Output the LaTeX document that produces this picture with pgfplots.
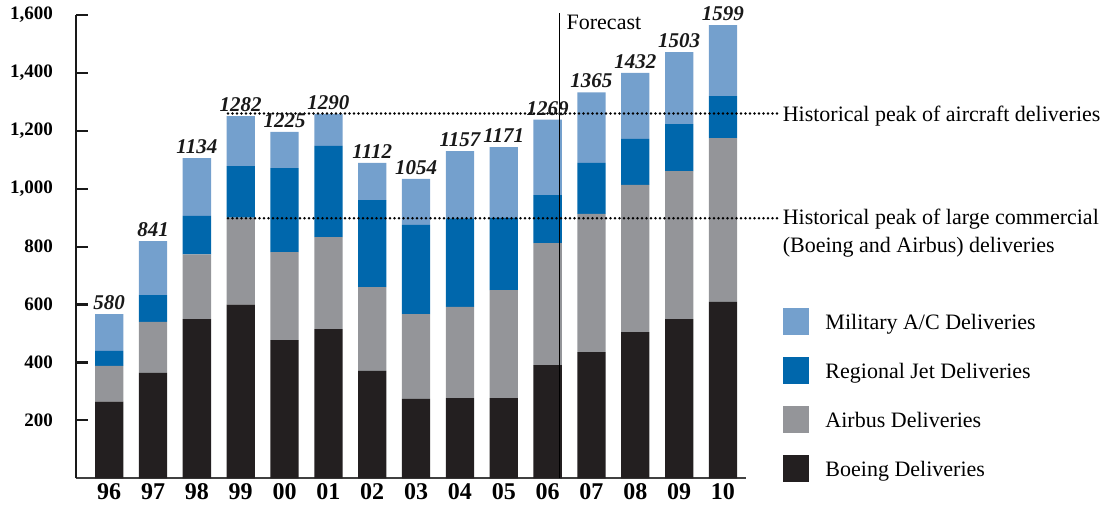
\documentclass[border=0pt]{standalone}
\usepackage{fontspec}
\setmainfont{Liberation Serif}
\usepackage{pgfplots}
\usepackage{pgfplotstable}
\pgfplotsset{compat=1.18}

\definecolor{boeing}{HTML}{231F20}
\definecolor{airbus}{HTML}{949599}
\definecolor{regional}{HTML}{0067AC}
\definecolor{military}{HTML}{74A0CD}

% segment heights; top = drawn bar top, total = printed label
\pgfplotstableread{
x  boeing airbus regional military top  total
0  265    123    52       127      567  580
1  364    176    93       186      819  841
2  550    223    133      200      1106 1134
3  600    300    178      173      1251 1282
4  477    304    290      125      1196 1225
5  515    318    315      110      1258 1290
6  371    289    301      128      1089 1112
7  274    293    308      159      1034 1054
8  277    315    306      232      1130 1157
9  277    373    249      245      1144 1171
10 391    421    166      261      1239 1269
11 436    477    176      244      1333 1365
12 505    508    159      228      1400 1432
13 550    511    162      249      1472 1503
14 609    566    145      245      1565 1599
}\deliveries

\pgfplotstableread{
x     y
2.71  1260
15.25 1260
}\peakall
\pgfplotstableread{
x     y
2.71  898
15.25 898
}\peaklarge
\pgfplotstableread{
x     y
10.28 0
10.28 1607
}\forecast

\begin{document}
\begin{tikzpicture}
\pgfplotsset{
  geom/.style={
    at={(0,0)}, anchor=south west,
    scale only axis, width=670pt, height=463.3pt,
    xmin=-0.757, xmax=14.525, ymin=0, ymax=1600,
    clip=false,
  },
  peak/.style={black, line width=2.7pt, line cap=round, dash pattern=on 0pt off 4.5pt},
}
\begin{axis}[
  geom, name=ax,
  ybar stacked, bar width=0.645,
  axis lines*=left,
  y axis line style={line width=2.2pt, black!90},
  x axis line style={line width=1.6pt, black!75},
  xtick={0,...,14},
  xticklabels={96,97,98,99,00,01,02,03,04,05,06,07,08,09,10},
  xtick style={draw=none},
  xticklabel style={font=\bfseries\fontsize{24}{24}\selectfont, inner sep=0pt, anchor=north, yshift=-5pt},
  ytick={200,400,...,1600},
  tick align=inside, major tick length=12pt,
  ytick style={line width=2.2pt, black!90},
  scaled y ticks=false,
  /pgf/number format/1000 sep={,},
  /pgf/number format/assume math mode=true,
  yticklabel style={font=\bfseries\fontsize{19}{19}\selectfont, inner sep=0pt, anchor=east, xshift=-23pt},
  reverse legend,
  legend cell align=left,
  legend image code/.code={\fill[#1] (0pt,-5.7pt) rectangle (26.5pt,21.3pt);},
  legend style={draw=none, fill=none, at={(1.0552,0.3676)}, anchor=north west,
    inner sep=0pt, outer sep=0pt, row sep=22pt, column sep=14pt,
    font=\fontsize{22}{26}\selectfont, cells={anchor=base west}},
]
\addplot[fill=boeing, draw=none] table[x=x, y=boeing]{\deliveries};
\addlegendentry{Boeing Deliveries}
\addplot[fill=airbus, draw=none] table[x=x, y=airbus]{\deliveries};
\addlegendentry{Airbus Deliveries}
\addplot[fill=regional, draw=none] table[x=x, y=regional]{\deliveries};
\addlegendentry{Regional Jet Deliveries}
\addplot[fill=military, draw=none] table[x=x, y=military]{\deliveries};
\addlegendentry{Military A/C Deliveries}
\end{axis}

\begin{axis}[geom, hide axis]
\addplot[draw=none, nodes near coords, point meta=explicit symbolic,
  nodes near coords style={font=\bfseries\itshape\fontsize{21}{21}\selectfont,
    inner sep=0pt, anchor=south, yshift=4pt, text=black!90}]
  table[x=x, y=top, meta=total]{\deliveries};
\addplot[peak] table[x=x, y=y]{\peakall};
\addplot[peak] table[x=x, y=y]{\peaklarge};
\addplot[black, line width=0.8pt] table[x=x, y=y]{\forecast};
\node[anchor=base west, inner sep=0pt, font=\fontsize{22}{22}\selectfont] at (axis cs:10.43,1550) {Forecast};
\node[anchor=base west, inner sep=0pt, font=\fontsize{22}{26}\selectfont] at (axis cs:15.36,1231) {Historical peak of aircraft deliveries};
\node[anchor=base west, inner sep=0pt, font=\fontsize{22}{26}\selectfont] at (axis cs:15.36,878) {Historical peak of large commercial};
\node[anchor=base west, inner sep=0pt, font=\fontsize{22}{26}\selectfont] at (axis cs:15.36,781) {(Boeing and Airbus) deliveries};
\end{axis}

\pgfresetboundingbox
\path (ax.south west) ++(-76pt,-26.7pt) rectangle ++(1113pt,505pt);
\end{tikzpicture}
\end{document}
